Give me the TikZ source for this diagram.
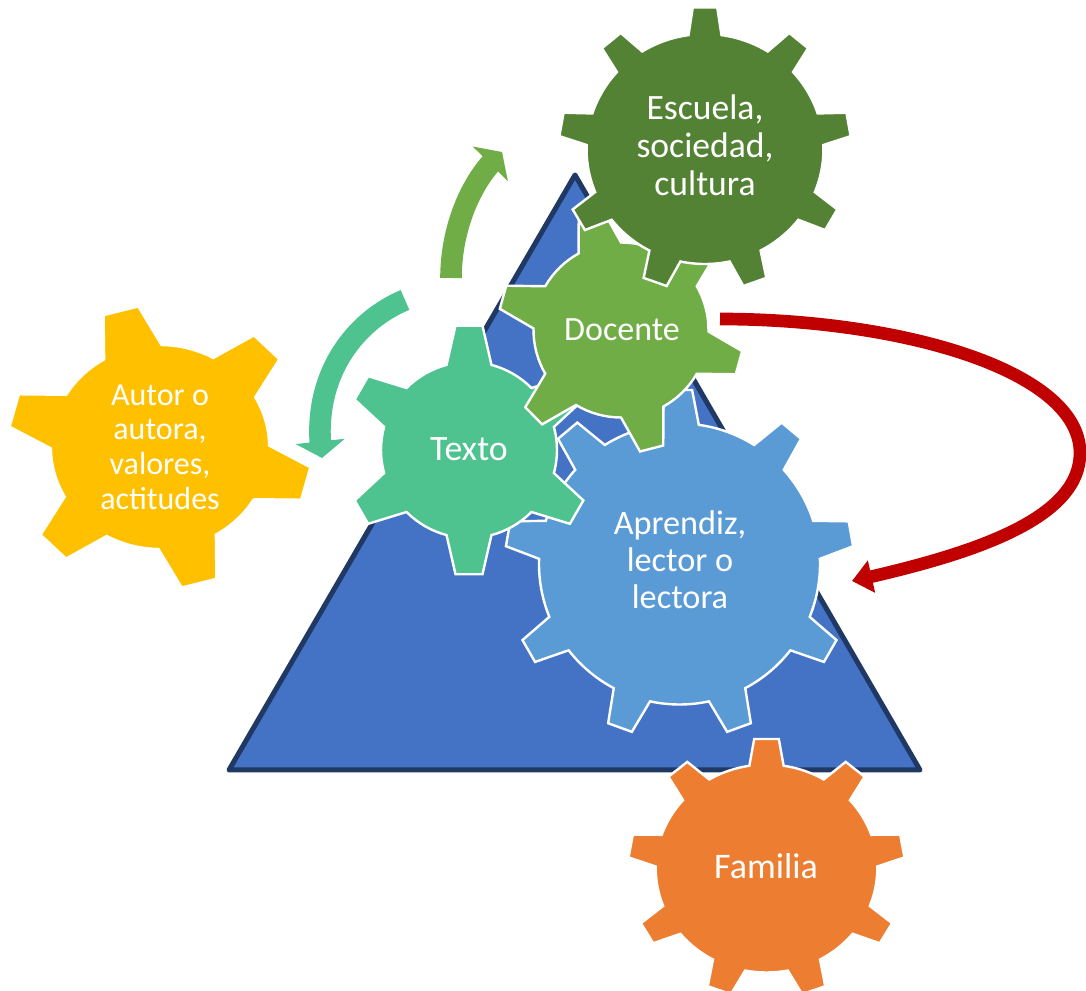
\documentclass[tikz,border=0pt]{standalone}
\usepackage{fontspec}
\setmainfont{Carlito}
\usepackage{xcolor}
\usetikzlibrary{arrows.meta}
\usetikzlibrary{bending}
\definecolor{triblue}{HTML}{4472C4}
\definecolor{trinavy}{HTML}{203864}
\definecolor{autorcol}{HTML}{FFC000}
\definecolor{textocol}{HTML}{4EC38F}
\definecolor{docentecol}{HTML}{70AD47}
\definecolor{escuelacol}{HTML}{548235}
\definecolor{aprendizcol}{HTML}{5B9BD5}
\definecolor{familiacol}{HTML}{ED7D31}
\definecolor{redcol}{HTML}{C00000}
\tikzset{
  % teeth, phase, body radius, tip radius, half angle at base, half angle at tip
  pics/gear/.style n args={6}{code={
    \path[pic actions,draw=white,line width=1.8pt] (#2-#5:#3)
      \foreach \k [evaluate=\k as \ang using #2+(\k-1)*360/#1] in {1,...,#1} {
        -- (\ang-#6:#4) -- (\ang+#6:#4) -- (\ang+#5:#3)
        arc[start angle=\ang+#5,end angle=\ang+360/#1-#5,radius=#3]
      } -- cycle;
  }},
  gearlabel/.style n args={2}{text=white,align=center,inner sep=0pt,font=\fontsize{#1}{#2}\selectfont},
  bigarrow/.style={line width=16.2pt,-{Triangle[length=12.5pt,width=36.5pt]}},
}
\begin{document}
\begin{tikzpicture}[x=0.75pt,y=0.75pt]
  \useasboundingbox (0,0) rectangle (1086,990);
  \draw[fill=triblue,draw=trinavy,line width=3.75pt,line join=round]
    (575,815) -- (229,220) -- (920,220) -- cycle;

  \pic[fill=aprendizcol] at (679.5,426) {gear={9}{10}{140.5}{174.5}{7.9}{4.15}};
  \pic[fill=textocol] at (469,540) {gear={6}{30}{88}{125}{14.8}{6.2}};
  \pic[fill=docentecol] at (621,660) {gear={6}{-15.5}{87.5}{123}{14.5}{5.6}};
  \pic[fill=escuelacol,xscale=1.03] at (705,841) {gear={9}{90}{115}{142}{8}{4.8}};
  \pic[fill=familiacol,xscale=1.065] at (766.5,121.5) {gear={9}{90}{104}{130}{8.9}{5.1}};
  \pic[fill=autorcol,xscale=1.07] at (160,543) {gear={6}{-15}{102}{142}{15.8}{6.8}};

  \node[gearlabel={26.7}{28.5}] (escuela) at (705,845) {Escuela,\\sociedad,\\cultura};
  \node[gearlabel={25.5}{28.5}] (docente) at (622,660) {Docente};
  \node[gearlabel={26.8}{28.5}] (texto) at (469,541) {Texto};
  \node[gearlabel={25.7}{27.8}] (aprendiz) at (680,430) {Aprendiz,\\lector o\\lectora};
  \node[gearlabel={27}{28.5}] (familia) at (766,124) {Familia};
  \node[gearlabel={24}{26}] (autor) at (160,543) {Autor o\\autora,\\valores,\\actitudes};

  \coordinate (greenA) at (451,712);
  \coordinate (greenB) at (502,838);
  \coordinate (tealA) at (405,690);
  \coordinate (tealB) at (322,532);
  \coordinate (redA) at (720,671);
  \coordinate (redB) at (1080,537);
  \coordinate (redC) at (852,409);
  \draw[bigarrow,docentecol] (greenA) .. controls (451,760) and (470,810) .. (greenB);
  \draw[bigarrow,textocol] (tealA) .. controls (352,668) and (310,610) .. (tealB);
  \draw[redcol,line width=9.5pt,-{Triangle[length=15pt,width=24pt]}]
    (redA) .. controls (900,671) and (1080,620) .. (redB)
    .. controls (1080,470) and (970,435) .. (redC);
\end{tikzpicture}
\end{document}
